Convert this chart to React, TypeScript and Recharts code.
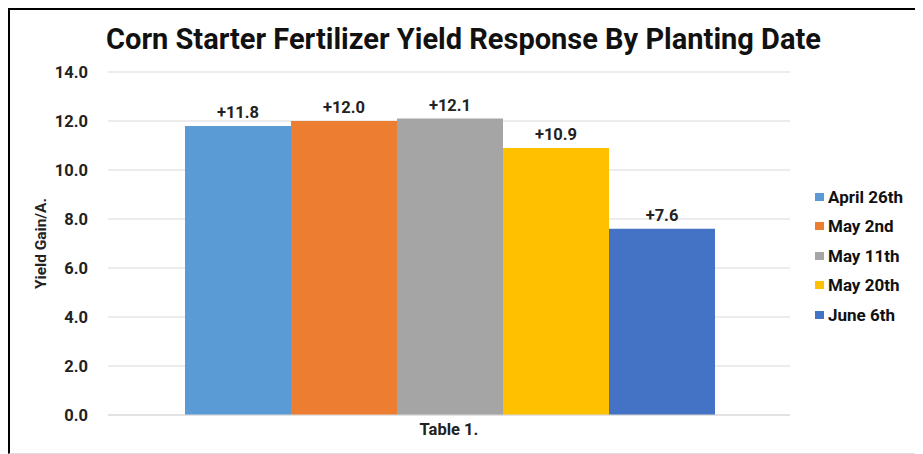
import React from "react";
import {
  BarChart,
  Bar,
  XAxis,
  YAxis,
  CartesianGrid,
  Legend,
  LabelList,
} from "recharts";

const categories: string[] = ["Table 1."];
const seriesNames: string[] = ["April 26th", "May 2nd", "May 11th", "May 20th", "June 6th"];
const seriesValues: number[] = [11.8, 12.0, 12.1, 10.9, 7.6];
const seriesColors: string[] = ["#5B9BD5", "#ED7D31", "#A5A5A5", "#FFC000", "#4472C4"];
const yTicks: number[] = [0, 2, 4, 6, 8, 10, 12, 14];

const data = categories.map((name) => {
  const row: Record<string, string | number> = { name };
  seriesNames.forEach((s, i) => {
    row[s] = seriesValues[i];
  });
  return row;
});

const font = "Roboto, 'Noto Sans', sans-serif";
const tickStyle = { fill: "#222", fontSize: 16.5, fontWeight: 700, fontFamily: font };

const renderLegend = (props: any) => {
  const payload = [...(props.payload || [])].sort(
    (a: any, b: any) => seriesNames.indexOf(a.value) - seriesNames.indexOf(b.value)
  );
  return (
    <ul style={{ listStyle: "none", margin: 0, padding: 0 }}>
      {payload.map((entry: any) => (
        <li
          key={entry.value}
          style={{
            height: 29.5,
            display: "flex",
            alignItems: "center",
            fontFamily: font,
            fontWeight: 700,
            fontSize: 17,
            color: "#111",
            whiteSpace: "nowrap",
          }}
        >
          <span
            style={{
              display: "inline-block",
              width: 9,
              height: 8,
              background: entry.color,
              marginRight: 4,
            }}
          />
          {entry.value}
        </li>
      ))}
    </ul>
  );
};

const App: React.FC = () => {
  return (
    <div
      style={{
        position: "relative",
        width: 911,
        height: 446,
        boxSizing: "border-box",
        borderTop: "2px solid #000",
        borderLeft: "2px solid #000",
        borderRight: "2px solid #000",
        borderBottom: "1px solid #ddd",
        background: "#fff",
      }}
    >
      <div
        style={{
          position: "absolute",
          top: 12,
          left: 0,
          width: 907,
          textAlign: "center",
          fontFamily: font,
          fontWeight: 700,
          fontSize: 29,
          color: "#111",
        }}
      >
        Corn Starter Fertilizer Yield Response By Planting Date
      </div>
      <BarChart
        width={907}
        height={443}
        data={data}
        margin={{ top: 62, right: 27, bottom: 0, left: 0 }}
        barGap={0}
        barCategoryGap={77}
      >
        <CartesianGrid vertical={false} stroke="#d9d9d9" />
        <XAxis
          dataKey="name"
          tick={tickStyle}
          tickLine={false}
          axisLine={{ stroke: "#d9d9d9" }}
          height={38}
        />
        <YAxis
          width={98}
          domain={[0, 14]}
          ticks={yTicks}
          tickFormatter={(v: number) => v.toFixed(1)}
          tick={tickStyle}
          tickLine={false}
          axisLine={false}
          tickSize={6}
          tickMargin={14}
          label={{
            value: "Yield Gain/A.",
            angle: -90,
            position: "insideLeft",
            offset: 30,
            style: { textAnchor: "middle", fill: "#222", fontSize: 15.5, fontWeight: 700, fontFamily: font },
          }}
        />
        <Legend
          layout="vertical"
          align="right"
          verticalAlign="middle"
          width={100}
          itemSorter={null as any}
          content={renderLegend}
          wrapperStyle={{ left: 805, right: "auto", top: 172 }}
        />
        {seriesNames.map((s, i) => (
          <Bar key={s} dataKey={s} fill={seriesColors[i]} isAnimationActive={false}>
            <LabelList
              dataKey={s}
              position="top"
              offset={8}
              formatter={(v: any) => `+${Number(v).toFixed(1)}`}
              style={{ fill: "#222", fontSize: 16.5, fontWeight: 700, fontFamily: font }}
            />
          </Bar>
        ))}
      </BarChart>
    </div>
  );
};

export default App;
